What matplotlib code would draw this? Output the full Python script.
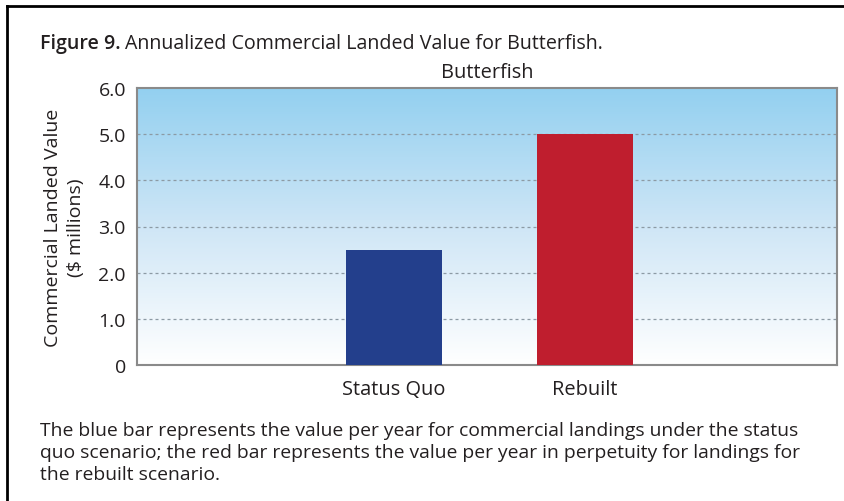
import matplotlib.pyplot as plt
import numpy as np
from matplotlib.colors import LinearSegmentedColormap

plt.rcParams['font.family'] = ['Open Sans', 'DejaVu Sans']

categories = ["Status Quo", "Rebuilt"]
values = [2.5, 5.0]
bar_colors = ["#233f8c", "#bf1e2e"]
yticks = [0, 1, 2, 3, 4, 5, 6]
ytick_labels = ["0", "1.0", "2.0", "3.0", "4.0", "5.0", "6.0"]

fig_label = "Figure 9."
title = "Annualized Commercial Landed Value for Butterfish."
caption = ("The blue bar represents the value per year for commercial landings under the status\n"
           "quo scenario; the red bar represents the value per year in perpetuity for landings for\n"
           "the rebuilt scenario.")

fig = plt.figure(figsize=(8.44, 5.02), dpi=100)
W, H = 844, 502
ax = fig.add_axes([137 / W, 1 - 366 / H, 700 / W, 277 / H])

# background gradient, light blue on top fading to white
cmap = LinearSegmentedColormap.from_list("bg", ["#ffffff", "#cfe6f6", "#93d0f0"])
grad = np.linspace(0, 1, 256).reshape(-1, 1)
xlim = (-1.345, 2.32)
ax.imshow(grad, cmap=cmap, aspect="auto", origin="lower",
          extent=(xlim[0], xlim[1], 0, 6), zorder=0)

x = np.arange(len(categories))
ax.bar(x, values, width=0.5, color=bar_colors, zorder=3)

for y in yticks[1:-1]:
    ax.axhline(y, color="#8c9aa4", lw=0.9, ls=(0, (2.4, 2.4)), zorder=1)

ax.set_xlim(*xlim)
ax.set_ylim(0, 6)
ax.set_yticks(yticks)
ax.set_yticklabels(ytick_labels, fontsize=14, color="#231f20")
ax.set_xticks(x)
ax.set_xticklabels(categories, fontsize=14.4, color="#231f20")
ax.tick_params(length=0, pad=8)
ax.tick_params(axis="x", pad=10)
for s in ax.spines.values():
    s.set_color("#8a8a8a")
    s.set_linewidth(1.5)

ax.set_ylabel("Commercial Landed Value\n($ millions)", fontsize=14,
              color="#231f20", linespacing=1.35, labelpad=10)
ax.set_title("Butterfish", fontsize=14.4, color="#231f20", pad=8)

t1 = fig.text(40 / W, 1 - 44 / H, fig_label, fontsize=14.1, color="#231f20",
              va="center", fontweight="semibold")
ax.annotate(title, xy=(1, 0), xycoords=t1, xytext=(3, 0), textcoords="offset points",
            fontsize=14.1, color="#231f20", va="bottom", annotation_clip=False)
fig.text(40 / W, 1 - 453 / H, caption, fontsize=13.9, color="#231f20",
         va="center", linespacing=1.32)

# frame around the figure (left and top edges)
fig.add_artist(plt.Line2D([7 / W, 7 / W], [0, 1 - 7 / H], color="black", lw=2,
                          transform=fig.transFigure))
fig.add_artist(plt.Line2D([7 / W, 1], [1 - 7 / H, 1 - 7 / H], color="black", lw=2,
                          transform=fig.transFigure))

fig.savefig("out.png", dpi=100)
